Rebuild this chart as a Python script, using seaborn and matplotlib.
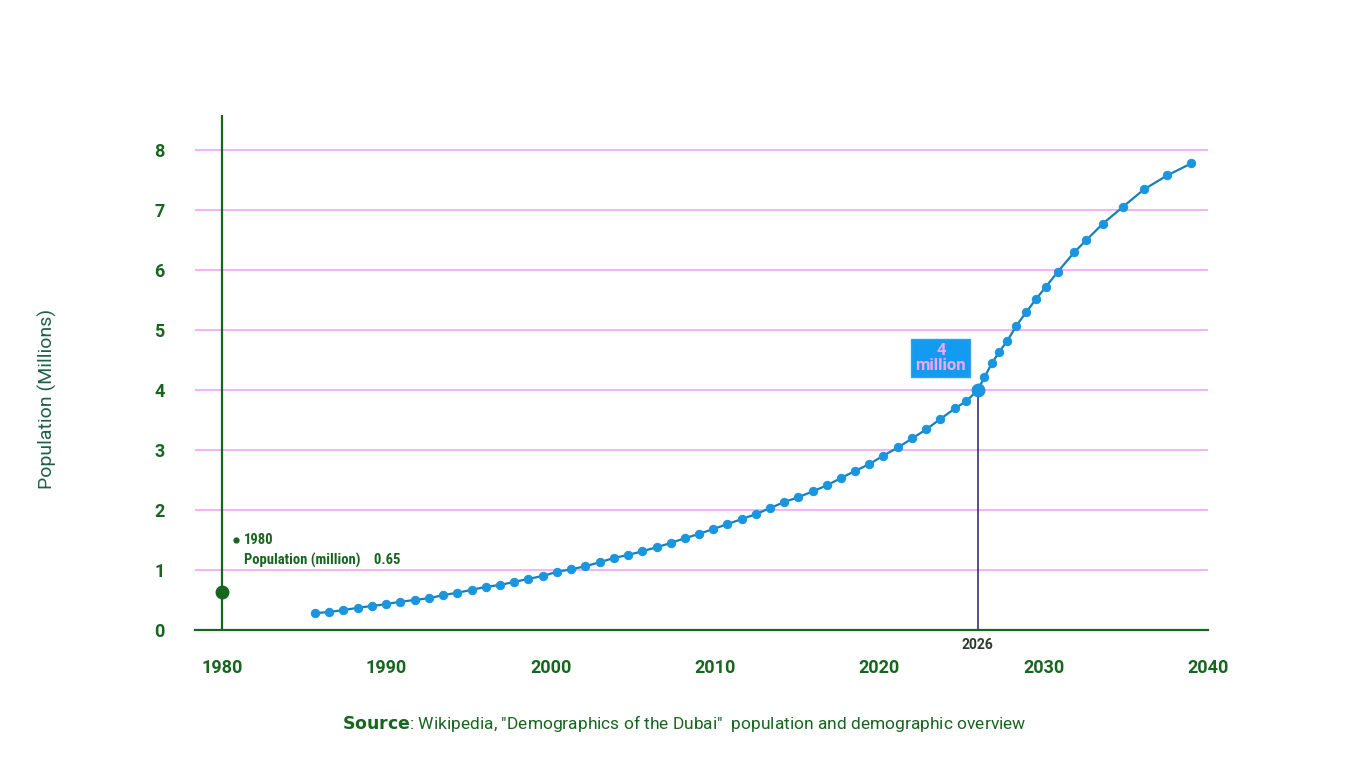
import matplotlib
matplotlib.use("Agg")
import matplotlib.pyplot as plt
import seaborn as sns
import pandas as pd

years = [1985.66, 1986.51, 1987.36, 1988.28, 1989.13, 1989.98, 1990.83, 1991.75, 1992.60, 1993.45,
         1994.30, 1995.22, 1996.07, 1996.92, 1997.77, 1998.62, 1999.54, 2000.39, 2001.24, 2002.09,
         2003.01, 2003.86, 2004.71, 2005.56, 2006.48, 2007.33, 2008.18, 2009.03, 2009.88,
         2010.73, 2011.65, 2012.50, 2013.35, 2014.21, 2015.06, 2015.97, 2016.82, 2017.67, 2018.53,
         2019.38, 2020.23, 2021.14, 2022.00, 2022.85, 2023.70, 2024.61, 2025.30,
         2026.0,
         2026.40, 2026.85, 2027.29, 2027.78, 2028.33, 2028.93, 2029.54, 2030.15, 2030.88, 2031.86,
         2032.59, 2033.62, 2034.84, 2036.12, 2037.52, 2038.98]
population = [0.28, 0.30, 0.33, 0.37, 0.40, 0.43, 0.47, 0.50, 0.53, 0.58,
              0.62, 0.67, 0.72, 0.75, 0.80, 0.85, 0.90, 0.97, 1.01, 1.06,
              1.13, 1.20, 1.25, 1.31, 1.38, 1.45, 1.53, 1.60, 1.68,
              1.76, 1.85, 1.93, 2.03, 2.13, 2.21, 2.31, 2.41, 2.53, 2.65,
              2.76, 2.90, 3.04, 3.19, 3.34, 3.51, 3.69, 3.81,
              4.0,
              4.21, 4.44, 4.63, 4.81, 5.06, 5.29, 5.51, 5.72, 5.97, 6.29,
              6.49, 6.77, 7.05, 7.34, 7.57, 7.77]
assert len(years) == len(population)

start_year, start_pop = 1980, 0.63
mark_year, mark_pop = 2026, 4.0
x_ticks = [1980, 1990, 2000, 2010, 2020, 2030, 2040]
y_ticks = list(range(0, 9))

GREEN = "#17651f"
BLUE = "#1a96e0"
PINK = "#f6a6f4"

sns.set_theme(style="white")
plt.rcParams["font.family"] = ["Roboto", "DejaVu Sans"]

df = pd.DataFrame({"year": years, "population": population})

fig = plt.figure(figsize=(13.65, 7.68), dpi=100, facecolor="white")
ax = fig.add_axes([0.1429, 0.1797, 0.742, 0.670])

for y in y_ticks[1:]:
    ax.axhline(y, color=PINK, lw=1.2, zorder=0)

sns.lineplot(data=df, x="year", y="population", ax=ax, color="#1580b8", lw=1.6,
             marker="o", markersize=6, markerfacecolor=BLUE, markeredgecolor=BLUE, zorder=3)
ax.plot([mark_year], [mark_pop], "o", ms=9, color=BLUE, zorder=4)
ax.plot([mark_year, mark_year], [0, mark_pop], color="#3a2f7a", lw=1.2, zorder=2)

ax.axvline(start_year, color=GREEN, lw=1.6, zorder=2)
ax.plot([start_year], [start_pop], "o", ms=9, color=GREEN, zorder=4)
ax.plot([1980.85], [1.5], "o", ms=3.5, color=GREEN)
ax.text(1981.35, 1.5, "1980", color=GREEN, fontsize=10.5, fontweight="bold", va="center",
        family=["Roboto Condensed", "Roboto", "DejaVu Sans"])
ax.text(1981.35, 1.15, "Population (million)    0.65", color=GREEN, fontsize=10.5, fontweight="bold",
        va="center", family=["Roboto Condensed", "Roboto", "DejaVu Sans"])

ax.text(2023.75, 4.53, "4\nmillion", ha="center", va="center", color=PINK, fontsize=12,
        fontweight="bold", linespacing=0.95,
        bbox=dict(boxstyle="square,pad=0.25", fc="#139bf2", ec="#3aa0d8"))
ax.text(mark_year, -0.13, str(mark_year), ha="center", va="top", color="#2b3a2b",
        fontsize=10, fontweight="bold")

ax.set_xlim(1978.36, 2040)
ax.set_ylim(0, 8.57)
ax.set_xticks(x_ticks)
ax.set_yticks(y_ticks)
ax.set_xlabel("")
ax.set_ylabel("")
for s in ["top", "right", "left"]:
    ax.spines[s].set_visible(False)
ax.spines["bottom"].set_color(GREEN)
ax.spines["bottom"].set_linewidth(1.6)
ax.tick_params(axis="x", colors=GREEN, length=7, width=1.4, direction="out", labelsize=13, pad=14)
ax.tick_params(axis="y", colors=GREEN, length=0, labelsize=13, pad=22)
for lab in ax.get_xticklabels() + ax.get_yticklabels():
    lab.set_fontweight("bold")

fig.text(0.035, 0.48, "Population (Millions)", rotation=90, ha="center", va="center",
         color="#1f5f4a", fontsize=14)
fig.text(0.5, 0.058, "Source", ha="right", va="center", color=GREEN, fontsize=12.5, fontweight="bold",
         transform=fig.transFigure, x=0.2925) if False else None
fig.text(0.2508, 0.058, r"$\bf{Source}$" + ': Wikipedia, "Demographics of the Dubai"  population and demographic overview',
         ha="left", va="center", color=GREEN, fontsize=12.5)

fig.savefig("out.png", dpi=100, facecolor="white")
